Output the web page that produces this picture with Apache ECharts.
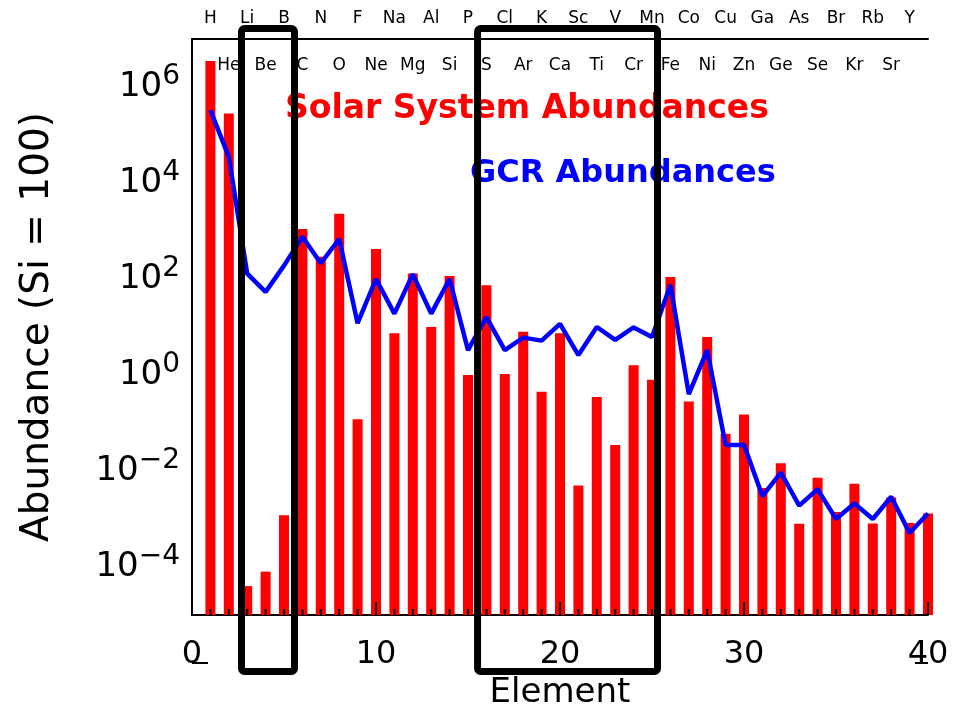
<!DOCTYPE html>
<html>
<head>
<meta charset="utf-8">
<script src="https://cdn.jsdelivr.net/npm/echarts@6/dist/echarts.min.js"></script>
<style>
    html, body { margin: 0; padding: 0; background: #fff; }
    #main { width: 953px; height: 709px; }
</style>
</head>
<body>
<div id="main"></div>
<script>
// element symbols, Z = 1..40
var elements = ['H','He','Li','Be','B','C','N','O','F','Ne','Na','Mg','Al','Si','P','S','Cl','Ar','K','Ca',
                'Sc','Ti','V','Cr','Mn','Fe','Co','Ni','Cu','Zn','Ga','Ge','As','Se','Br','Kr','Rb','Sr','Y','Zr'];

// solar system abundances (Si = 100)
var solar = [3.5e6, 2.8e5, 4e-5, 8e-5, 1.2e-3, 1.1e3, 290, 2.3e3, 0.12, 420,
             7.4, 130, 10, 115, 1.0, 74, 1.05, 8.0, 0.45, 7.4,
             5e-3, 0.35, 0.035, 1.6, 0.8, 110, 0.28, 6.2, 0.06, 0.15,
             4.4e-3, 1.45e-2, 8e-4, 7.2e-3, 1.4e-3, 5.4e-3, 8.1e-4, 2.8e-3, 8.3e-4, 1.3e-3];

// galactic cosmic ray abundances (Si = 100)
var gcr = [3.3e5, 3.5e4, 130, 54, 190, 760, 213, 680, 12, 100,
           19, 126, 19, 100, 3.3, 16, 3.3, 6, 5.2, 11.6,
           2.6, 10, 5.4, 9.8, 6.2, 75, 0.4, 3.3, 0.035, 0.035,
           3e-3, 9.3e-3, 1.9e-3, 4.2e-3, 1.0e-3, 2.1e-3, 1.0e-3, 2.9e-3, 5.1e-4, 1.3e-3];

// frame tick positions (drawn inward on all four sides)
var xTickVals = [];
for (var i = 0; i <= 40; i++) xTickVals.push(i);
var yTickExp = [-5, -4, -3, -2, -1, 0, 1, 2, 3, 4, 5, 6, 7];

// Z ranges of the two black boxes
var boxes = [[2.69, 5.57], [15.52, 25.3]];

var FONT = 'DejaVu Sans';
var XMIN = 0, XMAX = 40, YMIN = 1e-5, YMAX = 1e7;

var solarData = solar.map(function (v, i) { return [i + 1, v]; });
var gcrData = gcr.map(function (v, i) { return [i + 1, v]; });

var chart = echarts.init(document.getElementById('main'));

function expLabel(v) {
    var e = Math.round(Math.log10(v));
    if (e % 2 !== 0) return '';
    return '{b|10}{s|' + (e < 0 ? '\u2212' + (-e) : e) + '}';
}

var frameLine = { show: true, lineStyle: { color: '#000', width: 2 } };

option = {
    animation: false,
    backgroundColor: '#fff',
    grid: { left: 192, right: 25, top: 39, bottom: 94, outerBoundsMode: 'none', containLabel: false },
    xAxis: [
        {
            type: 'value', min: XMIN, max: XMAX, interval: 10, position: 'bottom',
            name: 'Element',
            nameLocation: 'middle',
            nameGap: 60,
            nameTextStyle: { fontFamily: FONT, fontSize: 34, color: '#000' },
            axisLine: frameLine,
            axisTick: { show: false },
            splitLine: { show: false },
            axisLabel: { margin: 24, fontFamily: FONT, fontSize: 32, color: '#000' }
        },
        {
            type: 'value', min: XMIN, max: XMAX, interval: 1, position: 'top',
            axisLine: frameLine,
            axisTick: { show: false },
            splitLine: { show: false },
            axisLabel: {
                margin: 12, fontFamily: FONT, fontSize: 17, color: '#000',
                formatter: function (v) { return (v % 2 === 1 && v < 40) ? elements[v - 1] : ''; }
            }
        },
        {
            type: 'value', min: XMIN, max: XMAX, interval: 1, position: 'top',
            axisLine: { show: false },
            axisTick: { show: false },
            splitLine: { show: false },
            axisLabel: {
                inside: true, margin: 18, fontFamily: FONT, fontSize: 17, color: '#000',
                formatter: function (v) { return (v % 2 === 0 && v > 0 && v < 40) ? elements[v - 1] : ''; }
            }
        }
    ],
    yAxis: [
        {
            type: 'log', logBase: 10, min: YMIN, max: YMAX, interval: 1, startValue: YMIN,
            position: 'left',
            name: 'Abundance (Si = 100)',
            nameLocation: 'middle',
            nameGap: 135,
            nameTextStyle: { fontFamily: FONT, fontSize: 39, color: '#000' },
            axisLine: frameLine,
            axisTick: { show: false },
            splitLine: { show: false },
            axisLabel: {
                margin: 12, color: '#000', formatter: expLabel,
                rich: {
                    b: { fontFamily: FONT, fontSize: 34, color: '#000' },
                    s: { fontFamily: FONT, fontSize: 28, color: '#000', padding: [0, 0, 20, 0] }
                }
            }
        },
        {
            type: 'log', logBase: 10, min: YMIN, max: YMAX, interval: 1,
            position: 'right',
            axisLine: frameLine,
            axisTick: { show: false },
            splitLine: { show: false },
            axisLabel: { show: false }
        }
    ],
    series: [
        {
            name: 'Solar System Abundances',
            type: 'bar',
            xAxisIndex: 0,
            yAxisIndex: 0,
            barWidth: 10,
            itemStyle: { color: '#ff0000' },
            data: solarData
        },
        {
            name: 'GCR Abundances',
            type: 'line',
            xAxisIndex: 0,
            yAxisIndex: 0,
            symbol: 'none',
            lineStyle: { color: '#0000ff', width: 4.5 },
            data: gcrData,
            z: 3
        }
    ]
};

chart.setOption(option);

// plot edges: right and bottom from the scales, left and top from the plot's own width and height
var pxR = chart.convertToPixel({ xAxisIndex: 0 }, XMAX);
var pyB = chart.convertToPixel({ yAxisIndex: 0 }, YMIN);
var unitX = chart.convertToPixel({ xAxisIndex: 0 }, 2) - chart.convertToPixel({ xAxisIndex: 0 }, 1);
var decY = chart.convertToPixel({ yAxisIndex: 0 }, 1e-5) - chart.convertToPixel({ yAxisIndex: 0 }, 1e-4);
var pxL = pxR - unitX * (XMAX - XMIN);
var pyT = pyB + decY * 12;

// frame ticks (as thin filled rects), boxes and the two in-plot titles
var graphics = [];
function tickRect(x, y, w, h) {
    graphics.push({ type: 'rect', z: 90, x: x, y: y, shape: { x: 0, y: 0, width: w, height: h },
                    style: { fill: '#000' } });
}
xTickVals.forEach(function (v) {
    var px = pxL + unitX * v;
    var len = v % 10 === 0 ? 13 : 6;
    tickRect(px - 1, pyB - len, 2, len);
    tickRect(px - 1, pyT, 2, len);
});
yTickExp.forEach(function (e) {
    var py = pyB + decY * (e + 5);
    tickRect(pxL, py - 1, e % 2 === 0 ? 16 : 10, 2);
    tickRect(pxR - 13, py - 1, 13, 2);
});
boxes.forEach(function (b) {
    var x0 = pxL + unitX * b[0];
    var x1 = pxL + unitX * b[1];
    graphics.push({
        type: 'rect', z: 100,
        shape: { x: x0, y: 28.5, width: x1 - x0, height: 643, r: 3 },
        style: { fill: null, stroke: '#000', lineWidth: 7 }
    });
});
graphics.push({
    type: 'text', left: 285, top: 93, z: 50,
    style: { text: 'Solar System Abundances', fill: '#ff0000', font: 'bold 33px "DejaVu Sans"' }
});
graphics.push({
    type: 'text', left: 470, top: 158, z: 50,
    style: { text: 'GCR Abundances', fill: '#0000ff', font: 'bold 32px "DejaVu Sans"' }
});
chart.setOption({ graphic: graphics });
</script>
</body>
</html>
